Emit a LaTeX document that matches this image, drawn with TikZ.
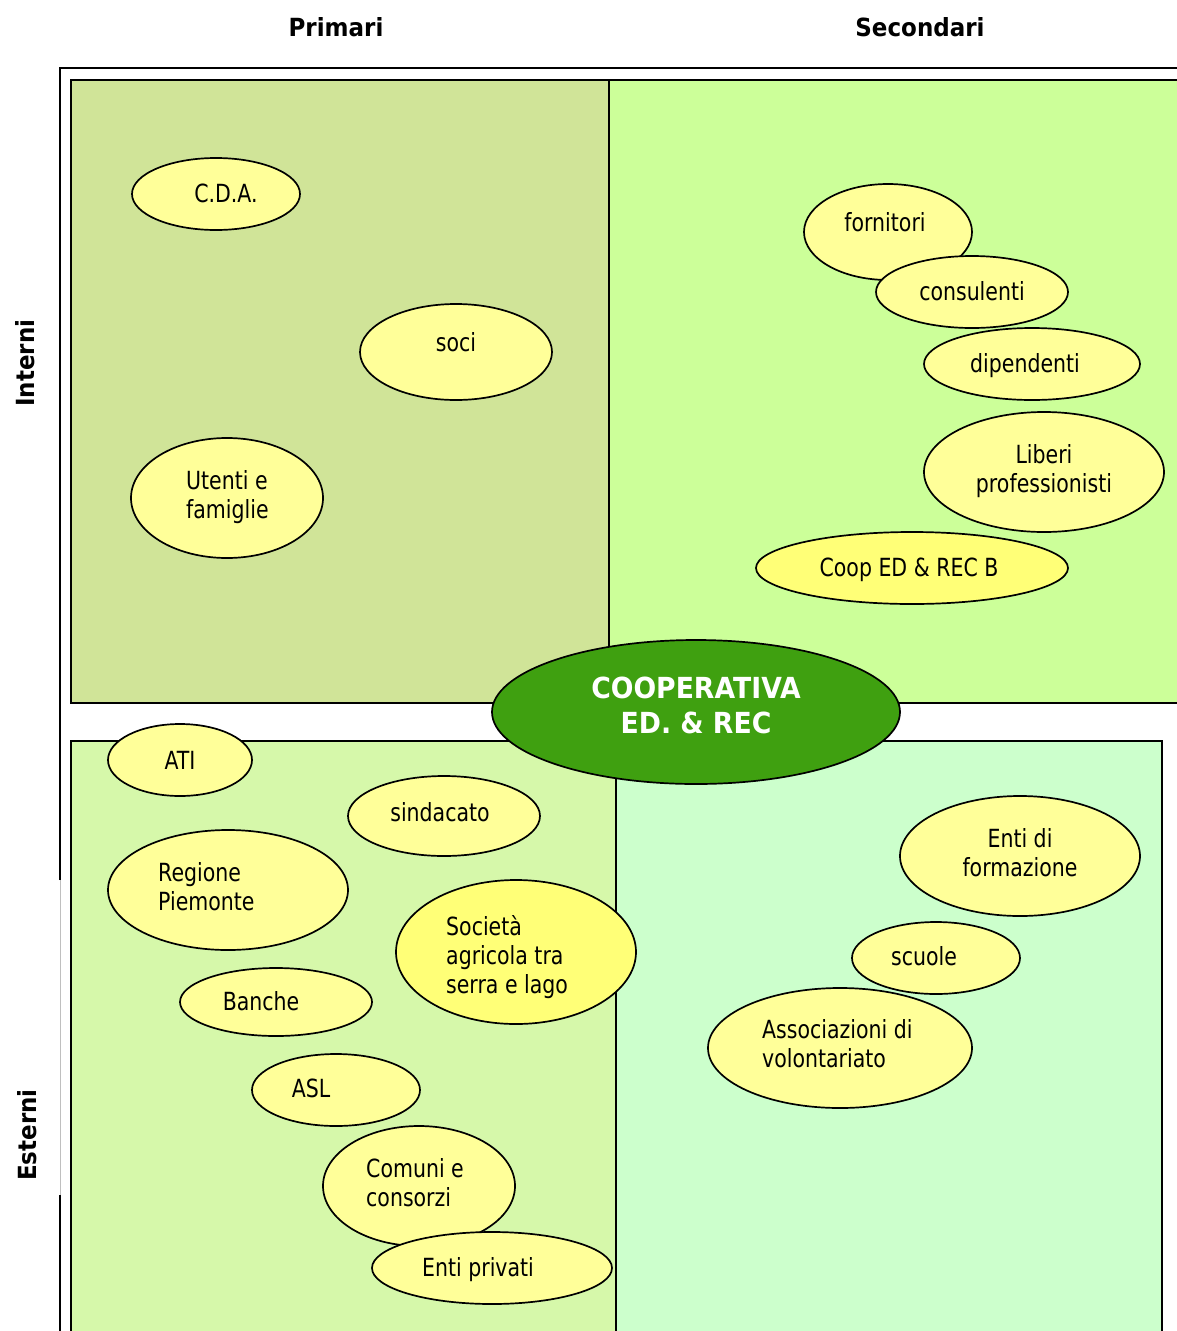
\documentclass[tikz,border=0pt]{standalone}
\usepackage{fontspec}
\setmainfont{DejaVu Sans}[FakeStretch=0.82]
\newfontfamily\headfont{DejaVu Sans}[FakeStretch=0.92]
\usetikzlibrary{shapes.geometric}
\definecolor{primint}{RGB}{208,228,152}
\definecolor{secint}{RGB}{204,255,153}
\definecolor{primest}{RGB}{214,248,170}
\definecolor{secest}{RGB}{204,255,204}
\definecolor{coopgreen}{RGB}{63,160,16}
\definecolor{actorfill}{RGB}{255,255,153}
\definecolor{actorbright}{RGB}{255,255,119}
\begin{document}
\begin{tikzpicture}[x=1pt,y=-1pt,
				quad/.style={draw,line width=1.8pt},
				actor/.style={ellipse,draw,line width=1.7pt,fill=actorfill,inner sep=0pt},
				bright/.style={actor,fill=actorbright},
				lbl/.style={font=\fontsize{25}{29}\selectfont,inner sep=0pt,
					execute at begin node=\strut,execute at end node=\strut},
				head/.style={font=\headfont\bfseries\fontsize{25}{29}\selectfont,inner sep=0pt,
					execute at begin node=\strut,execute at end node=\strut}]
\useasboundingbox (0,0) rectangle (1177,1331);
\clip (0,0) rectangle (1177,1331);
\fill[white] (0,0) rectangle (1177,1331);
\draw[line width=1.8pt] (60,1340) -- (60,1195);
\draw[line width=1pt,black!25] (60,1195) -- (60,880);
\draw[line width=1.8pt] (60,880) -- (60,68) -- (1190,68);
\draw[quad,fill=primint] (71,80) rectangle (609,703);
\draw[quad,fill=secint] (609,80) rectangle (1190,703);
\draw[quad,fill=primest] (71,741) rectangle (616,1345);
\draw[quad,fill=secest] (616,741) rectangle (1162,1345);
\node[head] (primari) at (336,31) {Primari};
\node[head] (secondari) at (920,31) {Secondari};
\node[head,rotate=90] (interni) at (29,363) {Interni};
\node[head,rotate=90] (esterni) at (31,1135) {Esterni};
\node[ellipse,draw,line width=1.7pt,fill=coopgreen,inner sep=0pt,
	minimum width=408pt,minimum height=144pt] (coop) at (696,712) {};
\node[font=\headfont\bfseries\fontsize{29}{35}\selectfont,text=white,inner sep=0pt,align=center,
	execute at begin node=\strut,execute at end node=\strut] (coop-t) at (696,710) {COOPERATIVA\\ED. \& REC};
\node[actor,minimum width=168pt,minimum height=72pt] (cda) at (216,194) {};
\node[lbl] (cda-t) at (226,197) {C.D.A.};
\node[actor,minimum width=192pt,minimum height=96pt] (soci) at (456,352) {};
\node[lbl] (soci-t) at (456,346) {soci};
\node[actor,minimum width=192pt,minimum height=120pt] (utenti) at (227,498) {};
\node[lbl,align=left,anchor=west] (utenti-t) at (186,499) {Utenti e\\famiglie};
\node[actor,minimum width=168pt,minimum height=96pt] (fornitori) at (888,232) {};
\node[lbl] (fornitori-t) at (885,226) {fornitori};
\node[actor,minimum width=192pt,minimum height=72pt] (consulenti) at (972,292) {};
\node[lbl] (consulenti-t) at (972,295) {consulenti};
\node[actor,minimum width=216pt,minimum height=72pt] (dipendenti) at (1032,364) {};
\node[lbl] (dipendenti-t) at (1025,367) {dipendenti};
\node[actor,minimum width=240pt,minimum height=120pt] (liberi) at (1044,472) {};
\node[lbl,align=center] (liberi-t) at (1044,473) {Liberi\\professionisti};
\node[bright,minimum width=312pt,minimum height=72pt] (coopb) at (912,568) {};
\node[lbl] (coopb-t) at (909,571) {Coop ED \& REC B};
\node[actor,minimum width=144pt,minimum height=72pt] (ati) at (180,760) {};
\node[lbl] (ati-t) at (180,764) {ATI};
\node[actor,minimum width=192pt,minimum height=80pt] (sindacato) at (444,816) {};
\node[lbl] (sindacato-t) at (440,816) {sindacato};
\node[actor,minimum width=240pt,minimum height=120pt] (regione) at (228,890) {};
\node[lbl,align=left,anchor=west] (regione-t) at (158,891) {Regione\\Piemonte};
\node[bright,minimum width=240pt,minimum height=144pt] (societa) at (516,952) {};
\node[lbl,align=left,anchor=west] (societa-t) at (446,959) {Società\\agricola tra\\serra e lago};
\node[actor,minimum width=192pt,minimum height=68pt] (banche) at (276,1002) {};
\node[lbl] (banche-t) at (261,1005) {Banche};
\node[actor,minimum width=168pt,minimum height=72pt] (asl) at (336,1090) {};
\node[lbl] (asl-t) at (311,1092) {ASL};
\node[actor,minimum width=192pt,minimum height=120pt] (comuni) at (419,1186) {};
\node[lbl,align=left,anchor=west] (comuni-t) at (366,1187) {Comuni e\\consorzi};
\node[actor,minimum width=240pt,minimum height=72pt] (privati) at (492,1268) {};
\node[lbl] (privati-t) at (478,1271) {Enti privati};
\node[actor,minimum width=240pt,minimum height=120pt] (formazione) at (1020,856) {};
\node[lbl,align=center] (formazione-t) at (1020,857) {Enti di\\formazione};
\node[actor,minimum width=168pt,minimum height=72pt] (scuole) at (936,958) {};
\node[lbl] (scuole-t) at (924,960) {scuole};
\node[actor,minimum width=264pt,minimum height=120pt] (volont) at (840,1048) {};
\node[lbl,align=left,anchor=west] (volont-t) at (762,1048) {Associazioni di\\volontariato};
\end{tikzpicture}
\end{document}
